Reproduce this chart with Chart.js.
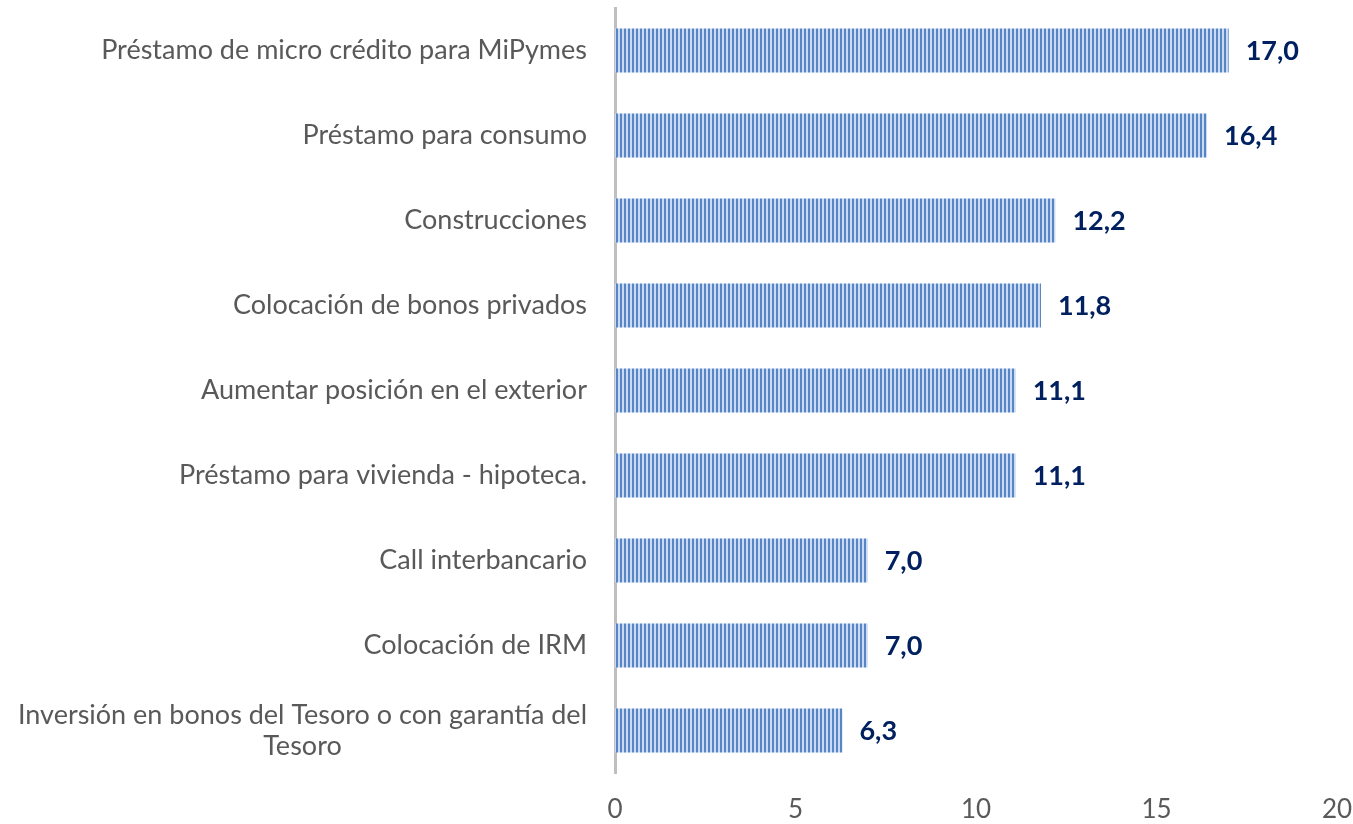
<!DOCTYPE html>
<html>
<head>
<meta charset="utf-8">
<script src="https://cdn.jsdelivr.net/npm/chart.js@4"></script>
<style>
  html, body { margin: 0; padding: 0; background: #fff; }
  #wrap { width: 1353px; height: 824px; }
</style>
</head>
<body>
<div id="wrap"><canvas id="barChart" width="1353" height="824"></canvas></div>
<script>
// Chart data
const categories = [
  ['Préstamo de micro crédito para MiPymes'],
  ['Préstamo para consumo'],
  ['Construcciones'],
  ['Colocación de bonos privados'],
  ['Aumentar posición en el exterior'],
  ['Préstamo para vivienda - hipoteca.'],
  ['Call interbancario'],
  ['Colocación de IRM'],
  ['Inversión en bonos del Tesoro o con garantía del', 'Tesoro']
];
const values = [17.0, 16.4, 12.2, 11.8, 11.1, 11.1, 7.0, 7.0, 6.3];
const xTicks = [0, 5, 10, 15, 20];

const FONT = 'Lato, "Open Sans", sans-serif';

// Vertical stripe fill for the bars
function stripePattern() {
  const c = document.createElement('canvas');
  c.width = 4; c.height = 4;
  const g = c.getContext('2d');
  g.fillStyle = '#cbdaf0';
  g.fillRect(0, 0, 4, 4);
  g.fillStyle = '#5686c6';
  g.fillRect(0, 0, 2, 4);
  return g.createPattern(c, 'repeat');
}

// Category labels drawn by hand: right aligned, extra lines centred under the first
const categoryLabels = {
  id: 'categoryLabels',
  afterDraw(chart) {
    const ctx = chart.ctx;
    const y = chart.scales.y;
    const right = chart.chartArea.left - 28;
    ctx.save();
    ctx.font = '27px ' + FONT;
    ctx.fillStyle = '#595959';
    ctx.textBaseline = 'middle';
    categories.forEach((lines, i) => {
      const cy = y.getPixelForValue(i);
      const lh = 31;
      const top = cy - (lines.length - 1) * lh / 2;
      const w0 = ctx.measureText(lines[0]).width;
      lines.forEach((line, j) => {
        if (j === 0) {
          ctx.textAlign = 'right';
          ctx.fillText(line, right, top);
        } else {
          ctx.textAlign = 'center';
          ctx.fillText(line, right - w0 / 2, top + j * lh);
        }
      });
    });
    ctx.restore();
  }
};

// Value labels at bar ends
const valueLabels = {
  id: 'valueLabels',
  afterDatasetsDraw(chart) {
    const ctx = chart.ctx;
    const meta = chart.getDatasetMeta(0);
    ctx.save();
    ctx.font = 'bold 27px ' + FONT;
    ctx.fillStyle = '#002060';
    ctx.textAlign = 'left';
    ctx.textBaseline = 'middle';
    meta.data.forEach((bar, i) => {
      ctx.fillText(values[i].toFixed(1).replace('.', ','), bar.x + 17, bar.y + 1);
    });
    ctx.restore();
  }
};

new Chart(document.getElementById('barChart'), {
  type: 'bar',
  data: {
    labels: categories.map(l => l.join(' ')),
    datasets: [{
      data: values,
      backgroundColor: stripePattern(),
      borderWidth: 0,
      categoryPercentage: 1,
      barPercentage: 0.52
    }]
  },
  options: {
    indexAxis: 'y',
    responsive: false,
    animation: false,
    layout: { padding: { left: 615, right: 0, top: 8, bottom: 0 } },
    plugins: {
      legend: { display: false },
      tooltip: { enabled: false }
    },
    scales: {
      x: {
        min: 0,
        max: 20,
        afterBuildTicks(axis) { axis.ticks = xTicks.map(v => ({ value: v })); },
        afterFit(axis) {
          axis.height = 51;
          axis.paddingRight = 16;
          axis.paddingLeft = 0;
        },
        grid: { display: false, drawTicks: false },
        border: { display: false },
        ticks: {
          color: '#595959',
          font: { family: FONT, size: 26, lineHeight: 1.1 },
          padding: 22,
          maxRotation: 0
        }
      },
      y: {
        grid: { display: false, drawTicks: false },
        border: { display: true, color: '#bfbfbf', width: 3 },
        ticks: { display: false }
      }
    }
  },
  plugins: [categoryLabels, valueLabels]
});
</script>
</body>
</html>
